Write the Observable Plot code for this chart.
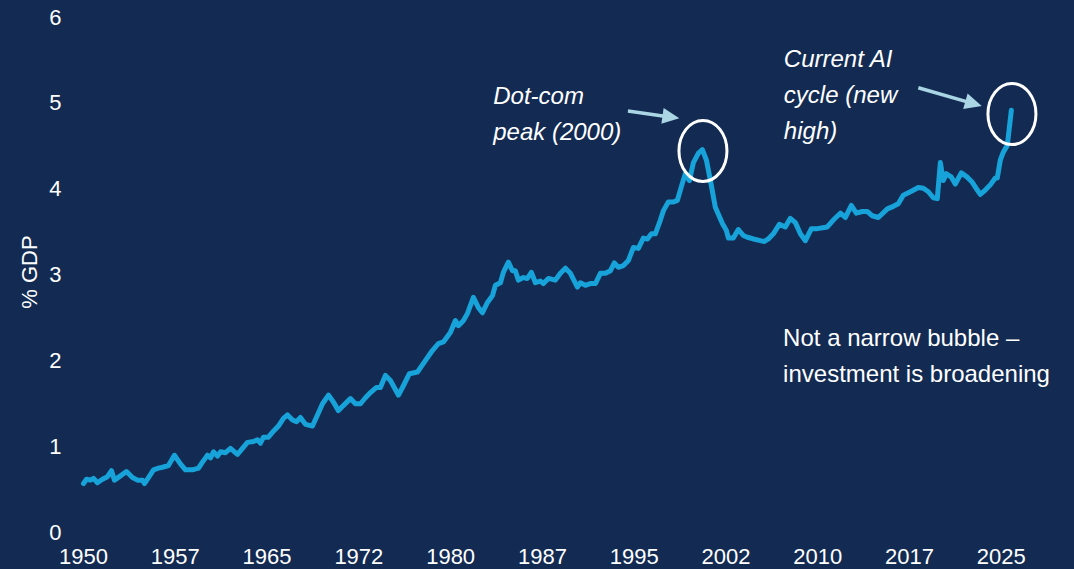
<!DOCTYPE html>
<html>
<head>
<meta charset="utf-8">
<script src="https://cdn.jsdelivr.net/npm/d3@7"></script>
<script src="https://cdn.jsdelivr.net/npm/@observablehq/plot@0.6"></script>
<style>
  html, body { margin: 0; padding: 0; background: #132b53; }
  #chart { width: 1074px; height: 569px; overflow: hidden; }
</style>
</head>
<body>
<div id="chart"></div>
<script>
// ---- Data ----
const years = [1950.00,1950.25,1950.57,1950.82,1951.14,1951.55,1951.96,1952.29,1952.53,1953.02,
  1953.51,1954.00,1954.41,1954.82,1954.98,1955.31,1955.72,1956.13,1956.45,1956.94,
  1957.43,1957.92,1958.33,1958.91,1959.40,1959.72,1960.13,1960.38,1960.62,1960.95,
  1961.19,1961.60,1962.01,1962.58,1962.99,1963.40,1963.89,1964.22,1964.46,1964.71,
  1965.11,1965.52,1965.93,1966.34,1966.67,1967.08,1967.40,1967.73,1968.14,1968.71,
  1969.12,1969.53,1970.02,1970.42,1970.83,1971.24,1971.81,1972.22,1972.63,1973.04,
  1973.45,1973.94,1974.26,1974.67,1975.08,1975.74,1976.14,1976.63,1977.29,1977.78,
  1978.51,1979.00,1979.41,1979.98,1980.39,1980.64,1981.05,1981.37,1981.86,1982.27,
  1982.60,1983.01,1983.42,1983.66,1984.07,1984.31,1984.72,1985.05,1985.29,1985.54,
  1985.95,1986.27,1986.60,1986.93,1987.34,1987.58,1987.99,1988.56,1988.97,1989.38,
  1989.79,1990.36,1990.60,1991.01,1991.42,1991.83,1992.24,1992.65,1993.06,1993.38,
  1993.71,1994.12,1994.53,1994.93,1995.34,1995.75,1996.08,1996.41,1996.73,1997.14,
  1997.39,1997.79,1998.20,1998.53,1998.94,1999.18,1999.51,1999.84,2000.25,2000.57,
  2000.90,2001.23,2001.63,2002.21,2002.53,2002.70,2003.10,2003.51,2003.92,2004.25,
  2004.74,2005.31,2005.64,2005.96,2006.37,2006.86,2007.35,2007.76,2008.17,2008.58,
  2008.99,2009.48,2009.97,2010.78,2011.27,2011.85,2012.25,2012.75,2013.15,2013.64,
  2014.05,2014.46,2014.95,2015.69,2016.18,2016.58,2016.99,2017.57,2018.22,2018.63,
  2019.04,2019.44,2019.77,2020.02,2020.26,2020.51,2020.92,2021.24,2021.73,2022.22,
  2022.63,2023.04,2023.28,2023.69,2024.10,2024.51,2024.67,2024.92,2025.16,2025.49,
  2025.82];
const values = [0.57,0.62,0.61,0.63,0.58,0.62,0.65,0.72,0.61,0.66,
  0.71,0.64,0.61,0.61,0.57,0.64,0.73,0.75,0.76,0.78,
  0.90,0.80,0.73,0.73,0.75,0.82,0.90,0.87,0.94,0.89,
  0.94,0.93,0.98,0.91,0.98,1.05,1.06,1.08,1.04,1.11,
  1.11,1.18,1.24,1.33,1.37,1.31,1.29,1.34,1.26,1.24,
  1.37,1.50,1.60,1.52,1.42,1.48,1.56,1.50,1.50,1.57,
  1.63,1.69,1.69,1.83,1.77,1.60,1.71,1.85,1.87,1.97,
  2.12,2.20,2.22,2.33,2.47,2.41,2.47,2.55,2.74,2.62,
  2.56,2.68,2.76,2.88,2.91,3.03,3.15,3.05,3.05,2.94,
  2.97,2.96,3.03,2.91,2.93,2.90,2.96,2.94,3.02,3.08,
  3.02,2.86,2.91,2.88,2.90,2.90,3.02,3.02,3.05,3.14,
  3.09,3.11,3.17,3.32,3.31,3.43,3.42,3.48,3.48,3.64,
  3.75,3.85,3.85,3.87,4.07,4.18,4.10,4.31,4.42,4.46,
  4.34,4.10,3.79,3.60,3.52,3.43,3.43,3.53,3.46,3.44,
  3.42,3.40,3.39,3.42,3.48,3.59,3.56,3.66,3.61,3.48,
  3.40,3.54,3.54,3.56,3.64,3.72,3.67,3.81,3.72,3.74,
  3.74,3.69,3.67,3.77,3.80,3.83,3.93,3.97,4.02,4.01,
  3.97,3.90,3.89,4.31,4.10,4.18,4.14,4.06,4.19,4.14,
  4.08,3.99,3.94,3.99,4.05,4.13,4.13,4.34,4.43,4.51,
  4.92];

const xTickValues = [1950, 1957.5, 1965, 1972.5, 1980, 1987.5, 1995, 2002.5, 2010, 2017.5, 2025];
const xTickLabels = ["1950","1957","1965","1972","1980","1987","1995","2002","2010","2017","2025"];
const yTickValues = [0, 1, 2, 3, 4, 5, 6];
const yTickLabels = ["0","1","2","3","4","5","6"];
const yLabel = "% GDP";

// annotation texts and anchors (data coordinates)
const noteTexts = ["Dot-com\npeak (2000)", "Current AI\ncycle (new\nhigh)"];
const noteYears = [1983.48, 2007.23];
const noteValues = [4.567, 4.59];
const plainTexts = ["Not a narrow bubble –\ninvestment is broadening"];
const plainYears = [2007.17];
const plainValues = [1.748];

// highlight rings (centres in data coordinates)
const ringYears = [2000.66, 2025.91];
const ringValues = [4.44, 4.87];
// arrows (start/end in data coordinates)
const arrowX1 = [1994.53, 2018.26];
const arrowY1 = [4.905, 5.176];
const arrowX2 = [1998.73, 2023.44];
const arrowY2 = [4.82, 4.963];

// ---- Build tables ----
const series = years.map((y, i) => ({year: y, value: values[i]}));
const notes = noteTexts.map((t, i) => ({text: t, x: noteYears[i], y: noteValues[i]}));
const plains = plainTexts.map((t, i) => ({text: t, x: plainYears[i], y: plainValues[i]}));

const BG = "#132b53";
const LINE = "#17a3d9";
const ARROW = "#a9d5e5";
const FONT = "'Liberation Sans', Arial, Helvetica, sans-serif";

const plot = Plot.plot({
  width: 1074,
  height: 569,
  marginLeft: 83,
  marginRight: 12,
  marginTop: 17,
  marginBottom: 37,
  style: {background: BG, color: "#ffffff", fontFamily: FONT, fontSize: "22px", overflow: "visible"},
  x: {domain: [1950, 2030]},
  y: {domain: [0, 6]},
  marks: [
    Plot.axisY({ticks: yTickValues, tickFormat: d => yTickLabels[yTickValues.indexOf(d)],
      tickSize: 0, tickPadding: 22, label: null, fontSize: 22, fill: "#ffffff"}),
    Plot.axisX({ticks: xTickValues, tickFormat: d => xTickLabels[xTickValues.indexOf(d)],
      tickSize: 0, tickPadding: 16, label: null, fontSize: 22, fill: "#ffffff"}),
    Plot.line(series, {x: "year", y: "value", stroke: LINE, strokeWidth: 5, strokeLinejoin: "round", strokeLinecap: "round"}),
    Plot.text([yLabel], {frameAnchor: "left", textAnchor: "middle", rotate: -90, dx: -54, dy: -3, fontSize: 22, fill: "#ffffff"}),
    Plot.text(notes, {x: "x", y: "y", text: "text", textAnchor: "start", lineAnchor: "bottom",
      lineHeight: 1.5, fontSize: 24, fontStyle: "italic", fill: "#ffffff"}),
    Plot.text(plains, {x: "x", y: "y", text: "text", textAnchor: "start", lineAnchor: "bottom",
      lineHeight: 1.5, fontSize: 24, fill: "#ffffff"})
  ]
});

// rings and arrows placed through the plot's scales
const sx = plot.scale("x"), sy = plot.scale("y");
const svg = d3.select(plot);
const g = svg.append("g");
ringYears.forEach((yr, i) => {
  g.append("ellipse")
    .attr("cx", sx.apply(yr)).attr("cy", sy.apply(ringValues[i]))
    .attr("rx", 24).attr("ry", 30.5)
    .attr("fill", "none").attr("stroke", "#ffffff").attr("stroke-width", 3);
});
arrowX1.forEach((x1, i) => {
  const px1 = sx.apply(x1), py1 = sy.apply(arrowY1[i]);
  const px2 = sx.apply(arrowX2[i]), py2 = sy.apply(arrowY2[i]);
  const dx = px2 - px1, dy = py2 - py1, L = Math.hypot(dx, dy);
  const ux = dx / L, uy = dy / L;
  const head = 17, half = 8;
  const bx = px2 - ux * head, by = py2 - uy * head;
  g.append("line")
    .attr("x1", px1).attr("y1", py1).attr("x2", bx + ux * 2).attr("y2", by + uy * 2)
    .attr("stroke", ARROW).attr("stroke-width", 3.5);
  g.append("polygon")
    .attr("points", [[px2, py2], [bx - uy * half, by + ux * half], [bx + uy * half, by - ux * half]].map(p => p.join(",")).join(" "))
    .attr("fill", ARROW);
});

document.getElementById("chart").appendChild(plot);
</script>
</body>
</html>
